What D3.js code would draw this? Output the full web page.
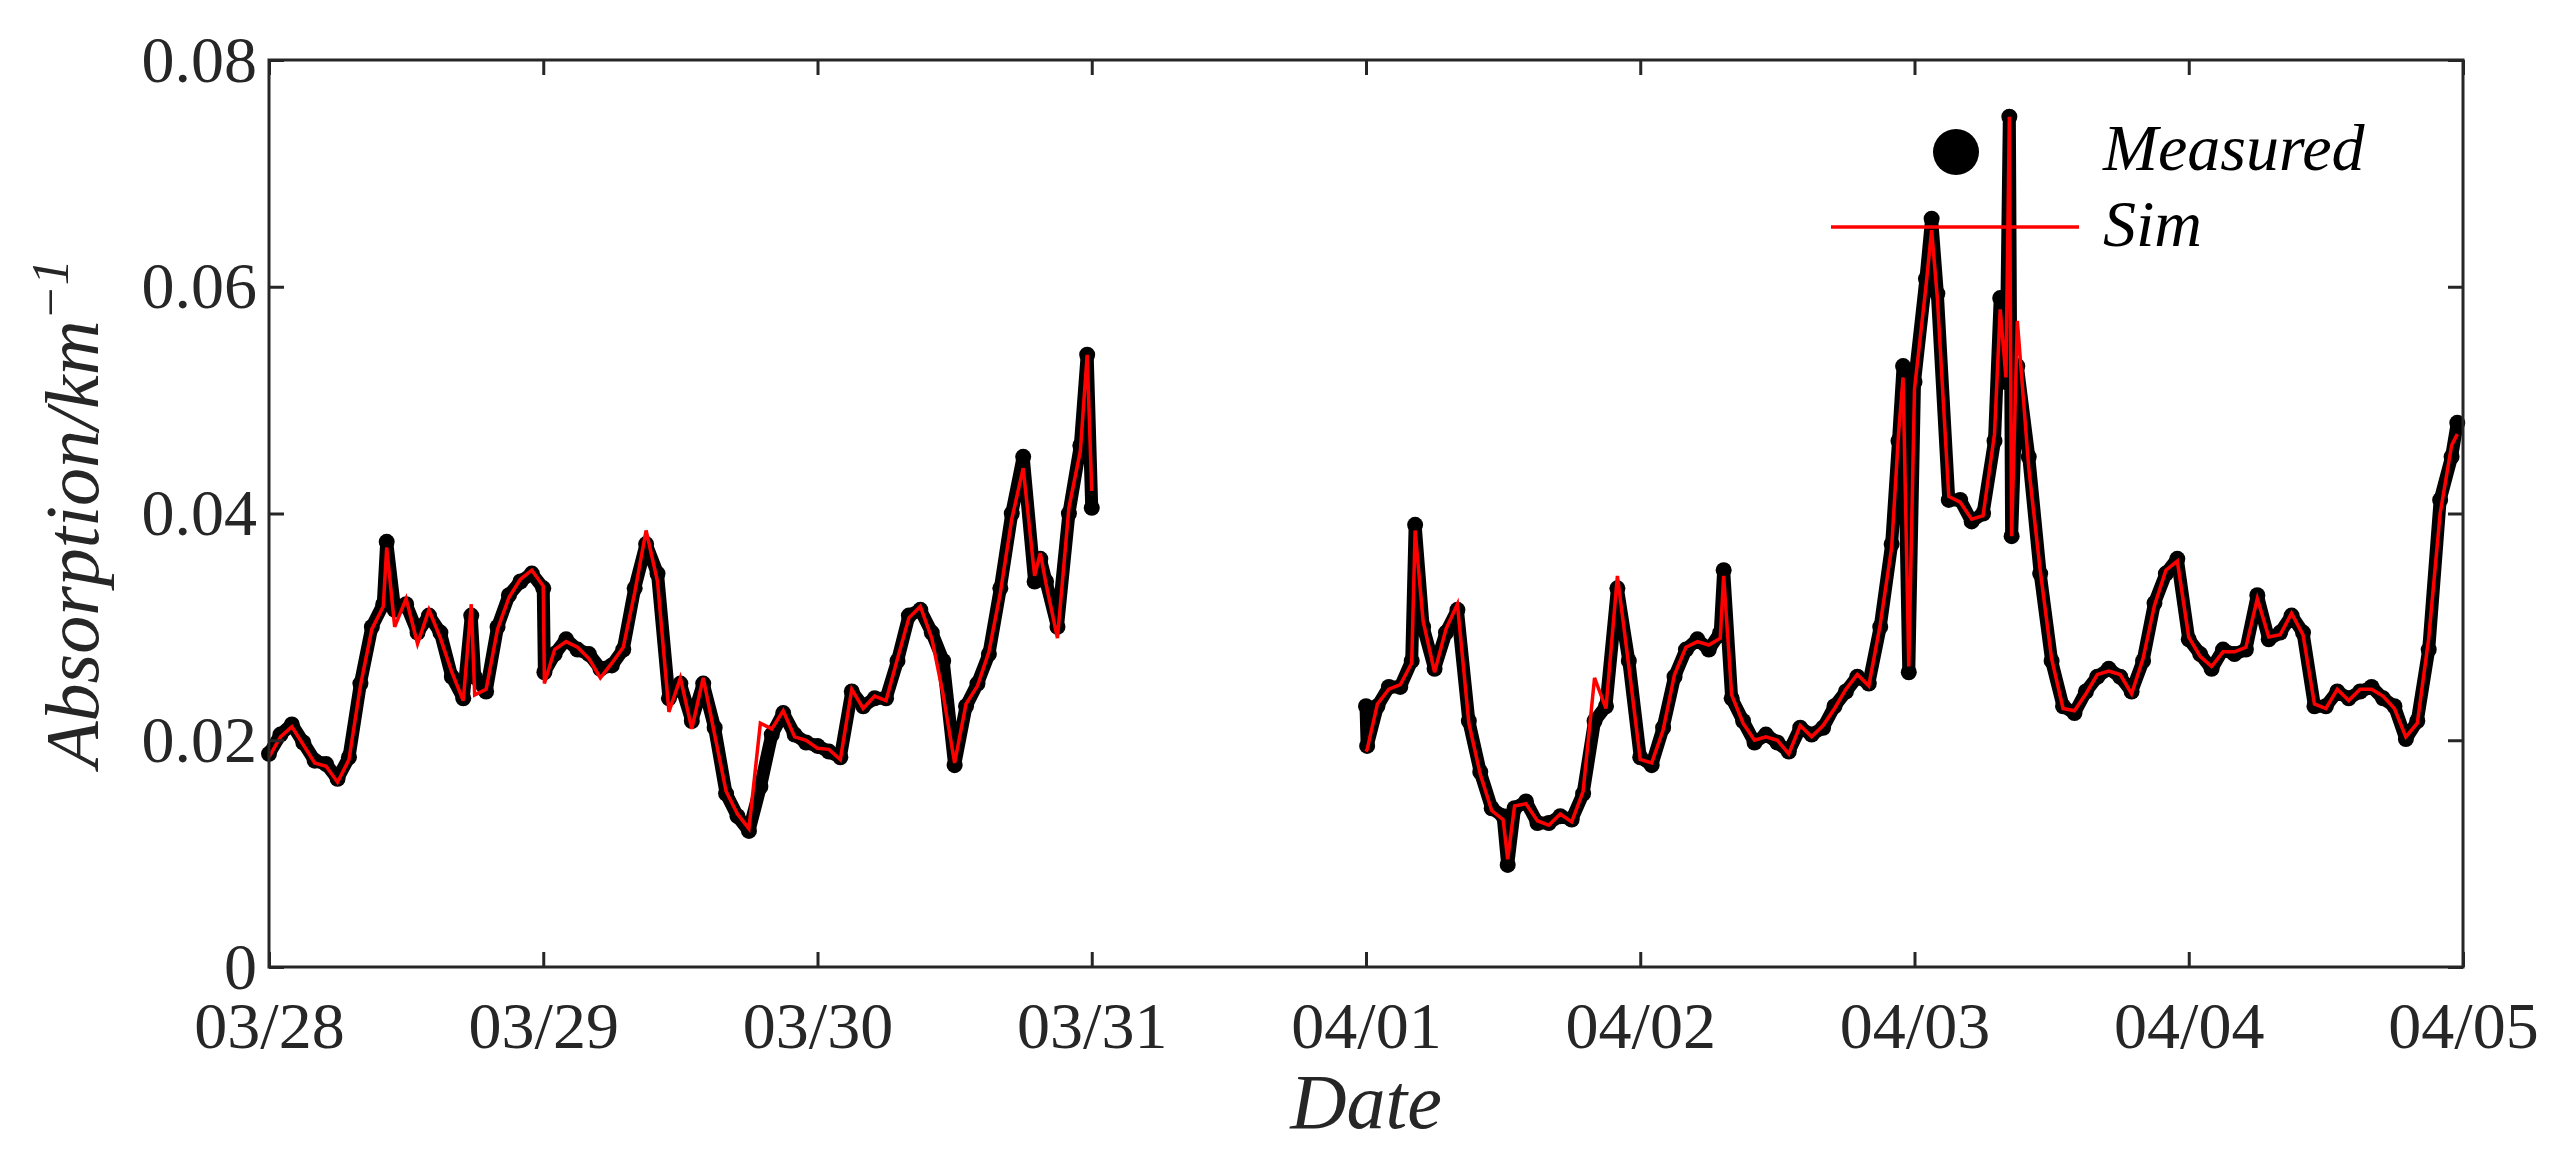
<!DOCTYPE html>
<html><head><meta charset="utf-8">
<script src="https://cdn.jsdelivr.net/npm/d3@7"></script>
<style>body{margin:0;background:#fff}svg{display:block}</style></head>
<body><svg id="c" width="2555" height="1153"></svg>
<script>
// hours since 03/28 00:00
const hoursA = [0,1,2,3,4,5,6,7,8,9,10,10.3,11,12,13,14,15,16,17,17.7,18,19,20,21,22,23,24,24.1,25,26,27,28,29,30,31,32,33,34,35,36,37,38,39,40,41,42,43,44,45,46,47,48,49,50,51,52,53,54,55,56,57,58,59,60,61,62,63,64,65,66,67,67.5,68,69,70,71,71.6,72];
const measuredA = [0.0188,0.0205,0.0214,0.0198,0.0182,0.0179,0.0166,0.0185,0.025,0.030,0.032,0.0375,0.0315,0.032,0.0295,0.031,0.0295,0.0256,0.0237,0.031,0.0256,0.0243,0.030,0.0328,0.034,0.0347,0.0334,0.026,0.0276,0.0289,0.028,0.0276,0.0263,0.0266,0.028,0.0334,0.0373,0.0347,0.0237,0.025,0.0217,0.025,0.0211,0.0153,0.0133,0.012,0.0159,0.0205,0.0224,0.0205,0.0198,0.0195,0.019,0.0185,0.0243,0.023,0.0237,0.0237,0.027,0.031,0.0315,0.0295,0.027,0.0178,0.023,0.025,0.0276,0.0334,0.040,0.045,0.034,0.036,0.034,0.030,0.040,0.046,0.054,0.0405];
const simA = [0.0185,0.0203,0.0212,0.0196,0.0180,0.0177,0.0163,0.0183,0.0248,0.0298,0.0318,0.0370,0.0300,0.0325,0.0285,0.0315,0.0290,0.0260,0.0235,0.0320,0.0240,0.0245,0.0298,0.0326,0.0342,0.0350,0.0336,0.0250,0.0280,0.0287,0.0282,0.0272,0.0255,0.0268,0.0282,0.0330,0.0385,0.0340,0.0225,0.0255,0.0210,0.0255,0.0205,0.0155,0.0135,0.0122,0.0215,0.0210,0.0226,0.0203,0.0200,0.0193,0.0192,0.0183,0.0245,0.0228,0.0239,0.0235,0.0272,0.0308,0.0318,0.0290,0.0240,0.0180,0.0232,0.0248,0.0278,0.0330,0.0395,0.0440,0.0345,0.0365,0.0338,0.0290,0.0405,0.0455,0.0540,0.0420];
// hours since 04/01 00:00
const hoursB = [0,0.1,1,2,3,4,4.3,5,6,7,8,9,10,11,12,12.4,13,14,15,16,17,18,19,20,21,22,23,24,25,26,27,28,29,30,31,31.3,32,33,34,35,36,37,38,39,40,41,42,43,44,45,46,46.6,47,47.5,48,49,49.5,50,51,52,53,54,55,55.5,56,56.3,56.5,57,58,59,60,61,62,63,64,65,66,67,68,69,70,71,72,73,74,75,76,77,78,79,80,81,82,83,84,85,86,87,88,89,90,91,92,93,94,95,95.5];
const measuredB = [0.023,0.0195,0.023,0.0247,0.0247,0.027,0.039,0.030,0.0263,0.0295,0.0315,0.0217,0.0172,0.014,0.0133,0.009,0.014,0.0146,0.0127,0.0127,0.0133,0.013,0.0153,0.0217,0.023,0.0334,0.027,0.0185,0.0178,0.0211,0.0256,0.028,0.0289,0.028,0.0295,0.035,0.0237,0.0217,0.0198,0.0205,0.0198,0.019,0.0211,0.0205,0.0211,0.023,0.0243,0.0256,0.025,0.030,0.0373,0.0464,0.053,0.026,0.0516,0.0607,0.066,0.0594,0.0412,0.0412,0.0393,0.040,0.0464,0.059,0.0516,0.075,0.038,0.053,0.045,0.0347,0.027,0.023,0.0224,0.0243,0.0256,0.0263,0.0256,0.0243,0.027,0.0321,0.0347,0.036,0.0289,0.0276,0.0263,0.028,0.0276,0.028,0.0328,0.0289,0.0295,0.031,0.0295,0.023,0.023,0.0243,0.0237,0.0243,0.0247,0.0237,0.023,0.0201,0.0217,0.028,0.0412,0.045,0.048,0.0285];
const simB = [0.0190,0.0192,0.0232,0.0245,0.0249,0.0268,0.0385,0.0305,0.0260,0.0298,0.0320,0.0215,0.0170,0.0138,0.0130,0.0095,0.0142,0.0144,0.0129,0.0125,0.0135,0.0128,0.0155,0.0255,0.0228,0.0345,0.0265,0.0183,0.0180,0.0209,0.0258,0.0282,0.0287,0.0284,0.0290,0.0345,0.0240,0.0215,0.0200,0.0203,0.0200,0.0188,0.0213,0.0203,0.0213,0.0228,0.0245,0.0258,0.0248,0.0302,0.0370,0.0470,0.0520,0.0265,0.0510,0.0600,0.0650,0.0590,0.0415,0.0410,0.0395,0.0398,0.0470,0.0580,0.0520,0.0750,0.0380,0.0570,0.0440,0.0350,0.0272,0.0228,0.0226,0.0241,0.0258,0.0261,0.0258,0.0241,0.0272,0.0319,0.0350,0.0358,0.0291,0.0274,0.0265,0.0278,0.0278,0.0282,0.0325,0.0291,0.0293,0.0312,0.0293,0.0232,0.0228,0.0245,0.0235,0.0245,0.0245,0.0239,0.0228,0.0203,0.0215,0.0290,0.0400,0.0460,0.0470,0.0290];
const xTickLabels = ["03/28","03/29","03/30","03/31","04/01","04/02","04/03","04/04","04/05"];
const yTicks = [0,0.02,0.04,0.06,0.08];

const L=269,R=2463,T=60,B=967;
const svg=d3.select("#c");
const t0=new Date(2020,2,28);
const day=864e5;
const x=d3.scaleTime().domain([t0,new Date(t0.getTime()+8*day)]).range([L,R]);
const y=d3.scaleLinear().domain([0,0.08]).range([B,T]);
const font="'Liberation Serif','DejaVu Serif',serif";
const mk=(hs,ms,ss,off)=>hs.map((h,i)=>({t:new Date(t0.getTime()+(off*24+h)*36e5),m:ms[i],s:ss[i]}));
const segs=[mk(hoursA,measuredA,simA,0),mk(hoursB,measuredB,simB,4)];
const g=svg.append("g");
segs.forEach(d=>{
  g.append("path").datum(d).attr("fill","none").attr("stroke","#000").attr("stroke-width",13).attr("stroke-linejoin","round").attr("stroke-linecap","round")
   .attr("d",d3.line().x(p=>x(p.t)).y(p=>y(p.m)));
  g.selectAll(null).data(d).enter().append("circle").attr("cx",p=>x(p.t)).attr("cy",p=>y(p.m)).attr("r",8).attr("fill","#000");
});
segs.forEach(d=>{
  g.append("path").datum(d).attr("fill","none").attr("stroke","#f00").attr("stroke-width",3.5)
   .attr("d",d3.line().x(p=>x(p.t)).y(p=>y(p.s)));
});
const tv=xTickLabels.map((s,i)=>new Date(t0.getTime()+i*day));
const ax=svg.append("g").attr("transform",`translate(0,${B})`).call(d3.axisBottom(x).tickValues(tv).tickFormat((d,i)=>xTickLabels[i]).tickSizeInner(-15).tickSizeOuter(0).tickPadding(34));
const axT=svg.append("g").attr("transform",`translate(0,${T})`).call(d3.axisTop(x).tickValues(tv).tickFormat("").tickSizeInner(-15).tickSizeOuter(0));
const ay=svg.append("g").attr("transform",`translate(${L},0)`).call(d3.axisLeft(y).tickValues(yTicks).tickFormat(d=>d===0?"0":d3.format(".2f")(d)).tickSizeInner(-15).tickSizeOuter(0).tickPadding(12));
const ayR=svg.append("g").attr("transform",`translate(${R},0)`).call(d3.axisRight(y).tickValues(yTicks).tickFormat("").tickSizeInner(-15).tickSizeOuter(0));
[ax,axT,ay,ayR].forEach(a=>{a.select(".domain").remove();a.selectAll("line").attr("stroke","#262626").attr("stroke-width",3);
 a.selectAll("text").attr("fill","#262626").style("font-family",font).style("font-size","66px");});
svg.append("rect").attr("x",L).attr("y",T).attr("width",R-L).attr("height",B-T).attr("fill","none").attr("stroke","#262626").attr("stroke-width",3);
svg.append("text").attr("x",(L+R)/2).attr("y",1128).attr("text-anchor","middle").style("font-family",font).style("font-style","italic").style("font-size","78px").attr("fill","#262626").text("Date");
const yl=svg.append("text").attr("transform",`translate(98,${(T+B)/2}) rotate(-90)`).attr("text-anchor","middle").style("font-family",font).style("font-style","italic").style("font-size","76px").attr("fill","#262626");
yl.append("tspan").text("Absorption/km");
yl.append("tspan").attr("dy",-30).style("font-size","52px").text("−1");
// legend
svg.append("circle").attr("cx",1956).attr("cy",152).attr("r",23).attr("fill","#000");
svg.append("line").attr("x1",1831).attr("x2",2079).attr("y1",227).attr("y2",227).attr("stroke","#f00").attr("stroke-width",3.5);
svg.append("text").attr("x",2103).attr("y",170).style("font-family",font).style("font-style","italic").style("font-size","66px").attr("fill","#000").text("Measured");
svg.append("text").attr("x",2103).attr("y",246).style("font-family",font).style("font-style","italic").style("font-size","66px").attr("fill","#000").text("Sim");
</script></body></html>
